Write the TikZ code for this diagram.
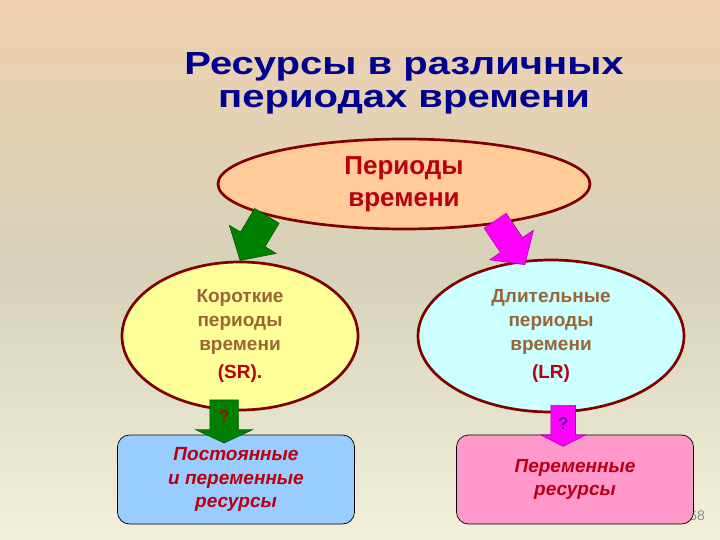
\documentclass[tikz,border=0pt]{standalone}
\usepackage{fontspec}
\setmainfont{Liberation Sans}
\usepackage{xcolor}
\definecolor{slideBlue}{HTML}{000090}
\definecolor{slideRed}{HTML}{B80010}
\definecolor{ovalRim}{HTML}{800000}
\definecolor{ovalPeach}{HTML}{FFCC99}
\definecolor{ovalYellow}{HTML}{FFFF99}
\definecolor{ovalCyan}{HTML}{CCFFFF}
\definecolor{boxBlue}{HTML}{99CCFF}
\definecolor{boxPink}{HTML}{FF99CC}
\definecolor{textBrown}{HTML}{996633}
\definecolor{arrowGreen}{HTML}{008000}
\definecolor{arrowMagenta}{HTML}{FF00FF}
\definecolor{qPurple}{HTML}{660099}
\definecolor{bgTop}{HTML}{F0D0AE}
\definecolor{bgMid}{HTML}{D6D2BA}
\definecolor{bgBottom}{HTML}{F2F0DA}
\usepackage{tikz}
\usetikzlibrary{shapes.geometric,shapes.arrows}

\begin{document}
\begin{tikzpicture}[x=1pt, y=-1pt,
  oval/.style={ellipse, draw=ovalRim, line width=2.7pt, inner sep=0pt, align=center,
    font=\bfseries\fontsize{19}{24}\selectfont},
  resbox/.style={draw=black, line width=0.7pt, rounded corners=12pt, minimum width=237pt,
    minimum height=89pt, align=center, text=slideRed, font=\bfseries\itshape\fontsize{19}{23.5}\selectfont},
  blockarrow/.style={single arrow, draw=#1!70!black, fill=#1, line width=0.6pt, sloped,
    allow upside down, inner xsep=0pt, pos=0, anchor=tail},
  qmark/.style={font=\bfseries\fontsize{17}{17}\selectfont}]
  \useasboundingbox (0,0) rectangle (720,540);
  % background
  \shade[top color=bgTop, bottom color=bgBottom, middle color=bgMid] (0,0) rectangle (720,540);
  % title
  \node[text=slideBlue, font=\bfseries\fontsize{32}{33}\selectfont, align=center, xscale=1.25] (title) at (404,83)
    {Ресурсы в различных\\периодах времени};
  % ovals
  \node[oval, fill=ovalPeach, minimum width=372pt, minimum height=90pt, text=slideRed,
    font=\bfseries\fontsize{26}{32}\selectfont] (periods) at (404,184) {Периоды\\времени};
  \node[oval, fill=ovalYellow, minimum width=236pt, minimum height=148pt, text=textBrown] (shortrun) at (240,336)
    {Короткие\\периоды\\времени\\[4pt]\textcolor{slideRed}{(SR).}};
  \node[oval, fill=ovalCyan, minimum width=266pt, minimum height=152pt, text=textBrown] (longrun) at (551,336)
    {Длительные\\периоды\\времени\\[4pt]\textcolor{slideRed}{(LR)}};
  % page number, partly under the pink box
  \node[text=black!45, font=\fontsize{14}{14}\selectfont] (pagenum) at (697,516) {68};
  % boxes
  \node[resbox, fill=boxBlue] (fixedvar) at (236,479.5) {Постоянные\\и переменные\\ресурсы};
  \node[resbox, fill=boxPink] (varres) at (575,479.5) {Переменные\\ресурсы};
  % arrows
  \path (periods.193) -- node[blockarrow=arrowGreen, inner ysep=14pt, minimum height=52pt,
    single arrow head extend=13pt, single arrow tip angle=96] (garrow) {} (shortrun.north);
  \path ([yshift=4pt]periods.336) -- node[blockarrow=arrowMagenta, inner ysep=13pt, minimum height=53pt,
    single arrow head extend=13pt, single arrow tip angle=96] (marrow) {} (longrun.111);
  \path ([yshift=11pt]shortrun.258) -- node[blockarrow=arrowGreen, inner ysep=14pt, minimum height=43pt,
    single arrow head extend=14pt, single arrow tip angle=130] (gsmall) {} (shortrun.258 |- fixedvar.north);
  \path ([yshift=8pt]longrun.279) -- node[blockarrow=arrowMagenta, inner ysep=12pt, minimum height=41pt,
    single arrow head extend=10pt, single arrow tip angle=126] (msmall) {} (longrun.279 |- varres.north);
  \node[qmark, text=slideRed] at ([yshift=-17pt]gsmall.tail) {?};
  \node[qmark, text=qPurple] at ([yshift=-19pt]msmall.tail) {?};
\end{tikzpicture}
\end{document}
